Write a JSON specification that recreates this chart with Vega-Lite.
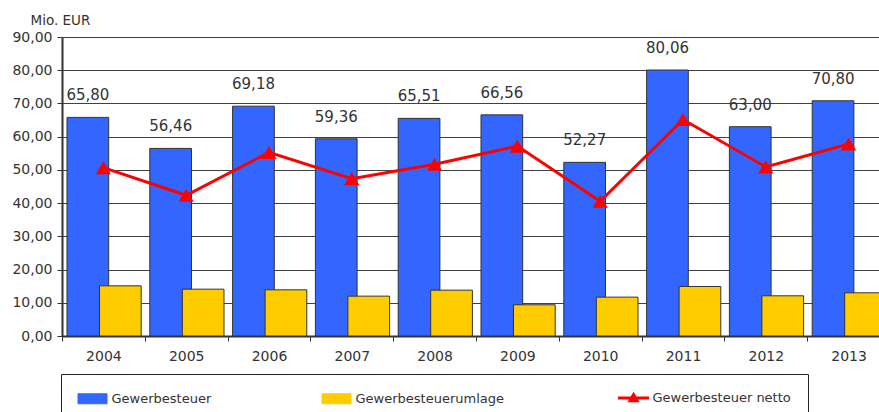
{
  "$schema": "https://vega.github.io/schema/vega-lite/v6.json",
  "width": 817,
  "height": 299,
  "autosize": {"type": "none"},
  "padding": {"left": 62, "top": 37, "right": 0, "bottom": 76},
  "background": "white",
  "config": {
    "font": "DejaVu Sans",
    "locale": {"number": {"decimal": ",", "thousands": ".", "grouping": [3], "currency": ["", " €"]}},
    "view": {"stroke": null},
    "axis": {
      "domainColor": "#333333",
      "domainWidth": 2,
      "tickColor": "#333333",
      "tickWidth": 1,
      "tickSize": 5,
      "labelColor": "#333333",
      "labelFont": "DejaVu Sans",
      "labelFontSize": 14
    },
    "legend": {
      "title": null,
      "orient": "none",
      "legendX": -1,
      "legendY": 337,
      "direction": "horizontal",
      "columns": 3,
      "columnPadding": 108,
      "padding": 17,
      "strokeColor": "#222222",
      "symbolSize": 100,
      "symbolOffset": 8,
      "labelOffset": 12.5,
      "labelFontSize": 13,
      "labelFont": "DejaVu Sans",
      "labelColor": "#333333",
      "labelLimit": 400
    }
  },
  "data": {
    "values": [
      {"year": "2004", "series": "Gewerbesteuer", "value": 65.80},
      {"year": "2005", "series": "Gewerbesteuer", "value": 56.46},
      {"year": "2006", "series": "Gewerbesteuer", "value": 69.18},
      {"year": "2007", "series": "Gewerbesteuer", "value": 59.36},
      {"year": "2008", "series": "Gewerbesteuer", "value": 65.51},
      {"year": "2009", "series": "Gewerbesteuer", "value": 66.56},
      {"year": "2010", "series": "Gewerbesteuer", "value": 52.27},
      {"year": "2011", "series": "Gewerbesteuer", "value": 80.06},
      {"year": "2012", "series": "Gewerbesteuer", "value": 63.00},
      {"year": "2013", "series": "Gewerbesteuer", "value": 70.80},
      {"year": "2004", "series": "Gewerbesteuerumlage", "value": 15.10},
      {"year": "2005", "series": "Gewerbesteuerumlage", "value": 14.10},
      {"year": "2006", "series": "Gewerbesteuerumlage", "value": 13.90},
      {"year": "2007", "series": "Gewerbesteuerumlage", "value": 12.00},
      {"year": "2008", "series": "Gewerbesteuerumlage", "value": 13.80},
      {"year": "2009", "series": "Gewerbesteuerumlage", "value": 9.40},
      {"year": "2010", "series": "Gewerbesteuerumlage", "value": 11.70},
      {"year": "2011", "series": "Gewerbesteuerumlage", "value": 14.90},
      {"year": "2012", "series": "Gewerbesteuerumlage", "value": 12.10},
      {"year": "2013", "series": "Gewerbesteuerumlage", "value": 13.00},
      {"year": "2004", "series": "Gewerbesteuer netto", "value": 50.70},
      {"year": "2005", "series": "Gewerbesteuer netto", "value": 42.36},
      {"year": "2006", "series": "Gewerbesteuer netto", "value": 55.28},
      {"year": "2007", "series": "Gewerbesteuer netto", "value": 47.36},
      {"year": "2008", "series": "Gewerbesteuer netto", "value": 51.71},
      {"year": "2009", "series": "Gewerbesteuer netto", "value": 57.16},
      {"year": "2010", "series": "Gewerbesteuer netto", "value": 40.57},
      {"year": "2011", "series": "Gewerbesteuer netto", "value": 65.16},
      {"year": "2012", "series": "Gewerbesteuer netto", "value": 50.90},
      {"year": "2013", "series": "Gewerbesteuer netto", "value": 57.80}
    ]
  },
  "encoding": {
    "x": {
      "field": "year",
      "type": "ordinal",
      "scale": {"range": [0, 828], "paddingInner": 0, "paddingOuter": 0},
      "axis": {"title": null, "labelAngle": 0, "tickBand": "extent", "labelPadding": 8, "grid": false}
    },
    "y": {
      "field": "value",
      "type": "quantitative",
      "scale": {"domain": [0, 90], "nice": false},
      "axis": {
        "values": [0, 10, 20, 30, 40, 50, 60, 70, 80, 90],
        "format": ".2f",
        "grid": true,
        "gridColor": "#404040",
        "gridWidth": 1,
        "labelPadding": 5,
        "title": "Mio. EUR",
        "titleAngle": 0,
        "titleAlign": "left",
        "titleBaseline": "alphabetic",
        "titleX": -32,
        "titleY": -13,
        "titleFontSize": 13.5,
        "titleFontWeight": "normal",
        "titleColor": "#333333",
        "titleFont": "DejaVu Sans"
      }
    }
  },
  "layer": [
    {
      "transform": [{"filter": "datum.series !== 'Gewerbesteuer netto'"}],
      "mark": {"type": "bar", "stroke": "#333333", "strokeWidth": 1, "width": {"band": 1.283}},
      "encoding": {
        "xOffset": {
          "field": "series",
          "scale": {"domain": ["Gewerbesteuer", "Gewerbesteuerumlage"], "paddingInner": 0, "paddingOuter": 0.2738, "align": 0.939}
        },
        "color": {
          "field": "series",
          "type": "nominal",
          "scale": {
            "domain": ["Gewerbesteuer", "Gewerbesteuerumlage", "Gewerbesteuer netto"],
            "range": ["#3366FF", "#FFCC00", "#FF0000"]
          },
          "legend": {
            "encode": {
              "symbols": {
                "update": {
                  "shape": {"signal": "datum.value === 'Gewerbesteuer netto' ? 'M-3.1,0L3.1,0M0,-0.65L0.7,0.55L-0.7,0.55Z' : 'M-2.9,-1L2.9,-1L2.9,1L-2.9,1Z'"},
                  "fill": {"signal": "datum.value === 'Gewerbesteuer' ? '#3366FF' : (datum.value === 'Gewerbesteuerumlage' ? '#FFCC00' : '#FF0000')"},
                  "stroke": {"signal": "datum.value === 'Gewerbesteuer netto' ? '#FF0000' : '#333333'"},
                  "strokeWidth": {"signal": "datum.value === 'Gewerbesteuer netto' ? 3 : 1"}
                }
              }
            }
          }
        }
      }
    },
    {
      "transform": [{"filter": "datum.series === 'Gewerbesteuer netto'"}],
      "mark": {"type": "line", "strokeWidth": 3, "point": {"shape": "triangle-up", "size": 230, "filled": true, "opacity": 1}},
      "encoding": {
        "color": {
          "field": "series",
          "type": "nominal",
          "legend": {
            "encode": {
              "symbols": {
                "update": {
                  "shape": {"signal": "datum.value === 'Gewerbesteuer netto' ? 'M-3.1,0L3.1,0M0,-0.65L0.7,0.55L-0.7,0.55Z' : 'M-2.9,-1L2.9,-1L2.9,1L-2.9,1Z'"},
                  "fill": {"signal": "datum.value === 'Gewerbesteuer' ? '#3366FF' : (datum.value === 'Gewerbesteuerumlage' ? '#FFCC00' : '#FF0000')"},
                  "stroke": {"signal": "datum.value === 'Gewerbesteuer netto' ? '#FF0000' : '#333333'"},
                  "strokeWidth": {"signal": "datum.value === 'Gewerbesteuer netto' ? 3 : 1"}
                }
              }
            }
          }
        }
      }
    },
    {
      "transform": [{"filter": "datum.series === 'Gewerbesteuer'"}],
      "mark": {"type": "text", "dy": -22, "dx": -15.5, "baseline": "middle", "fontSize": 15, "color": "#333333", "font": "DejaVu Sans"},
      "encoding": {
        "text": {"field": "value", "type": "quantitative", "format": ".2f"}
      }
    }
  ]
}
